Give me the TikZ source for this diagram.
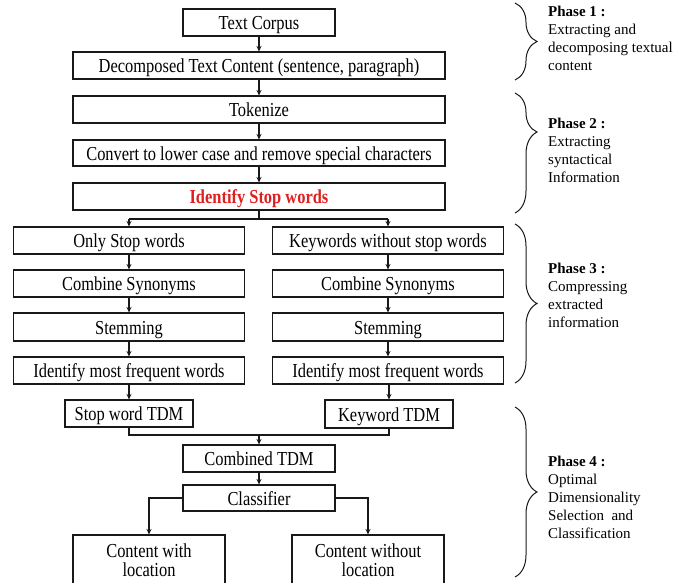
\documentclass[tikz,border=0pt]{standalone}
\usepackage{fontspec}
\setmainfont{Liberation Serif}
\newfontfamily\boxfont{Liberation Serif}[FakeStretch=0.83]
\usetikzlibrary{arrows.meta,decorations.pathreplacing}
\definecolor{lineclr}{RGB}{25,25,25}
\definecolor{redtxt}{RGB}{222,32,32}
\tikzset{
  stepbox/.style={draw=lineclr, line width=1.1pt, rectangle, inner sep=0pt,
    minimum height=27pt, text height=16pt, text depth=2pt,
    font=\boxfont\fontsize{19.8}{19}\selectfont},
  wide/.style={stepbox, minimum width=372pt},
  mid/.style={stepbox, minimum width=152pt},
  col/.style={stepbox, minimum width=231pt},
  small/.style={stepbox, minimum width=128pt},
  twoline/.style={mid, minimum height=50pt, align=center, text height=, text depth=,
    font=\boxfont\fontsize{19.8}{19.5}\selectfont},
  conn/.style={draw=lineclr, line width=1.1pt},
  arr/.style={conn, -{Stealth[length=5.5pt,width=5pt]}},
  phasebrace/.style={draw=lineclr, line width=1pt, decorate,
    decoration={brace, amplitude=22pt}},
  phasetext/.style={anchor=north west, inner sep=0pt, align=left,
    font=\fontsize{15}{18}\selectfont}
}
\begin{document}
\begin{tikzpicture}[x=1pt,y=-1pt]
\useasboundingbox (0,0) rectangle (686,582);
\clip (0,0) rectangle (686,582);
% main column
\node[mid]  (tc)    at (259,22.5)  {Text Corpus};
\node[wide] (dec)   at (259,65.5)  {Decomposed Text Content (sentence, paragraph)};
\node[wide] (tok)   at (259,109.5) {Tokenize};
\node[wide, minimum height=26pt] (conv) at (259,153) {Convert to lower case and remove special characters};
\node[wide, text=redtxt, font=\boxfont\bfseries\fontsize{19.8}{19}\selectfont] (ident) at (259,196.5) {Identify Stop words};
% left column
\node[col] (l1) at (129,240.5) {Only Stop words};
\node[col] (l2) at (129,283.5) {Combine Synonyms};
\node[col, minimum height=28pt] (l3) at (129,327) {Stemming};
\node[col] (l4) at (129,370.5) {Identify most frequent words};
% right column
\node[col] (r1) at (388,240.5) {Keywords without stop words};
\node[col] (r2) at (388,283.5) {Combine Synonyms};
\node[col, minimum height=28pt] (r3) at (388,327) {Stemming};
\node[col] (r4) at (388,370.5) {Identify most frequent words};
% TDMs
\node[small] (swt) at (129,413.5) {Stop word TDM};
\node[small, minimum height=28pt] (kwt) at (389,414) {Keyword TDM};
\node[mid] (comb) at (259,458.5) {Combined TDM};
\node[mid, minimum height=26pt] (cls) at (259,498) {Classifier};
\node[twoline] (cwl) at (149,560) {Content with\\location};
\node[twoline] (cwol) at (368,560) {Content without\\location};
% coordinates
\coordinate (split) at (259,219);
\coordinate (splitl) at (129,219);
\coordinate (splitr) at (388,219);
\coordinate (merge) at (259,435);
% connectors
\draw[arr] (tc) -- (dec);
\draw[arr] (dec) -- (tok);
\draw[arr] (tok) -- (conv);
\draw[arr] (conv) -- (ident);
\draw[conn] (ident) -- (split);
\draw[conn] (splitl) -- (splitr);
\draw[arr] (splitl) -- (l1);
\draw[arr] (splitr) -- (r1);
\draw[arr] (l1) -- (l2);
\draw[arr] (l2) -- (l3);
\draw[arr] (l3) -- (l4);
\draw[arr] (l4) -- (swt);
\draw[arr] (r1) -- (r2);
\draw[arr] (r2) -- (r3);
\draw[arr] (r3) -- (r4);
\draw[arr] (r4.south -| kwt) -- (kwt);
\draw[conn] (swt.south) |- (merge) -| (kwt.south);
\draw[arr] (merge) -- (comb);
\draw[arr] (comb) -- (cls);
\draw[arr] (cls.west) -| (cwl.north);
\draw[arr] (cls.east) -| (cwol.north);
% braces
\draw[phasebrace] (515,3) -- (515,80);
\draw[phasebrace, decoration={brace, amplitude=22pt, aspect=0.325}] (515,93) -- (515,213);
\draw[phasebrace] (515,224) -- (515,383);
\draw[phasebrace] (515,407) -- (515,577);
% phase labels
\node[phasetext] (p1) at (548,6) {\textbf{Phase 1 :}\\Extracting and\\decomposing textual\\content};
\node[phasetext] (p2) at (548,118) {\textbf{Phase 2 :}\\Extracting\\syntactical\\Information};
\node[phasetext] (p3) at (548,263) {\textbf{Phase 3 :}\\Compressing\\extracted\\information};
\node[phasetext] (p4) at (548,456) {\textbf{Phase 4 :}\\Optimal\\Dimensionality\\Selection\ \ and\\Classification};
\end{tikzpicture}
\end{document}
